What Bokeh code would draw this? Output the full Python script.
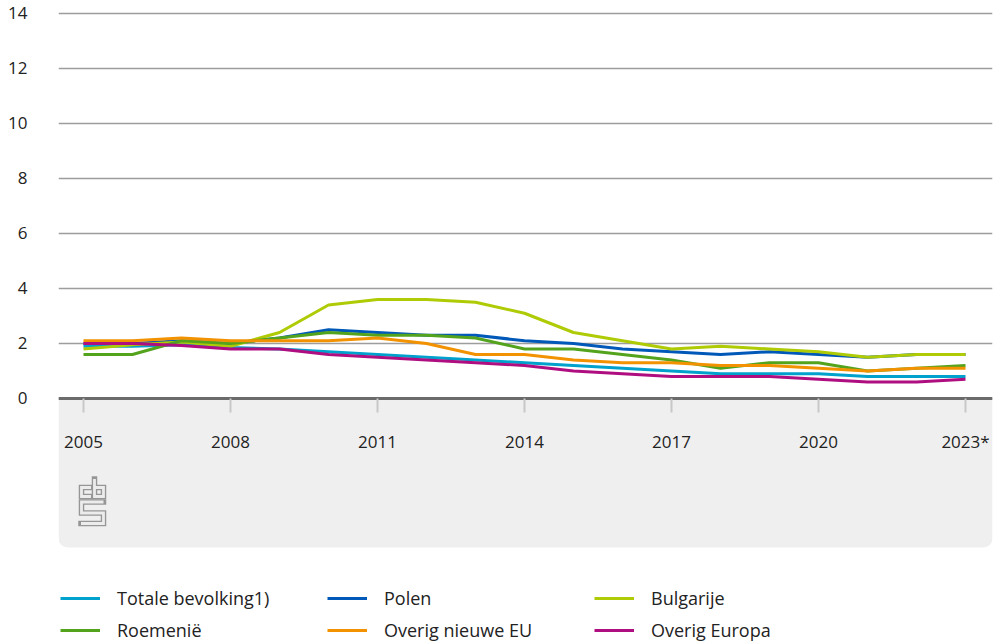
from bokeh.plotting import figure
from bokeh.models import (FixedTicker, BoxAnnotation, Legend, LegendItem, Range1d,
                          ColumnDataSource)
from bokeh.embed import file_html
from bokeh.resources import INLINE

# ---------------- data ----------------
years = list(range(2005, 2024))
totale_bevolking = [1.9, 1.9, 1.95, 1.85, 1.8, 1.7, 1.6, 1.5, 1.4, 1.3, 1.2, 1.1, 1.0, 0.9, 0.9, 0.9, 0.8, 0.8, 0.8]
polen = [2.0, 2.0, 2.1, 2.0, 2.2, 2.5, 2.4, 2.3, 2.3, 2.1, 2.0, 1.8, 1.7, 1.6, 1.7, 1.6, 1.5, 1.6, 1.6]
bulgarije = [1.8, 1.95, 2.05, 1.9, 2.4, 3.4, 3.6, 3.6, 3.5, 3.1, 2.4, 2.1, 1.8, 1.9, 1.8, 1.7, 1.5, 1.6, 1.6]
roemenie = [1.6, 1.6, 2.1, 2.0, 2.2, 2.4, 2.3, 2.3, 2.2, 1.8, 1.8, 1.6, 1.4, 1.1, 1.3, 1.3, 1.0, 1.1, 1.2]
overig_nieuwe_eu = [2.1, 2.1, 2.2, 2.1, 2.1, 2.1, 2.2, 2.0, 1.6, 1.6, 1.4, 1.3, 1.3, 1.2, 1.2, 1.1, 1.0, 1.1, 1.1]
overig_europa = [2.0, 2.0, 1.93, 1.8, 1.8, 1.6, 1.5, 1.4, 1.3, 1.2, 1.0, 0.9, 0.8, 0.8, 0.8, 0.7, 0.6, 0.6, 0.7]

series_names = ["Totale bevolking1)", "Polen", "Bulgarije",
                "Roemenië", "Overig nieuwe EU", "Overig Europa"]
series_values = [totale_bevolking, polen, bulgarije, roemenie, overig_nieuwe_eu, overig_europa]
series_colors = ["#00a1cd", "#0058b8", "#afcb05", "#53a31d", "#f39200", "#af0e80"]

x_tick_values = [2005, 2008, 2011, 2014, 2017, 2020, 2023]
x_tick_labels = ["2005", "2008", "2011", "2014", "2017", "2020", "2023*"]
y_tick_values = [0, 2, 4, 6, 8, 10, 12, 14]

FONT = "Open Sans"
TEXT_COLOR = "#222222"

# ---------------- figure ----------------
p = figure(width=999, height=643, output_backend="svg", toolbar_location=None,
           title=None,
           x_range=Range1d(2004.49, 2023.551), y_range=Range1d(-8.909, 14.145),
           min_border_left=58, min_border_right=7, min_border_top=9, min_border_bottom=0)
p.outline_line_color = None
p.background_fill_color = "white"
p.border_fill_color = "white"

# grey band below the axis
band = BoxAnnotation(top=0, bottom=-5.418, fill_color="#efefef", fill_alpha=1.0,
                     line_color=None, level="underlay", border_radius=(0, 0, 9, 9))
p.add_layout(band)

# grid
p.xgrid.visible = False
p.ygrid.ticker = FixedTicker(ticks=y_tick_values)
p.ygrid.grid_line_color = "#9d9d9d"
p.ygrid.grid_line_width = 1.5

# y axis
p.yaxis.ticker = FixedTicker(ticks=y_tick_values)
p.yaxis.axis_line_color = None
p.yaxis.major_tick_line_color = None
p.yaxis.minor_tick_line_color = None
p.yaxis.major_label_standoff = 25
p.yaxis.major_label_text_font = FONT
p.yaxis.major_label_text_font_size = "17px"
p.yaxis.major_label_text_color = TEXT_COLOR

# x axis, fixed at y = 0
p.xaxis.ticker = FixedTicker(ticks=x_tick_values)
p.xaxis.major_label_overrides = {v: l for v, l in zip(x_tick_values, x_tick_labels)}
p.xaxis.fixed_location = 0
p.xaxis.axis_line_color = "#6b6b6b"
p.xaxis.axis_line_width = 3
p.xaxis.major_tick_in = 0
p.xaxis.major_tick_out = 14
p.xaxis.major_tick_line_color = "#c8c8c8"
p.xaxis.major_tick_line_width = 2
p.xaxis.minor_tick_line_color = None
p.xaxis.major_label_standoff = 18
p.xaxis.major_label_text_font = FONT
p.xaxis.major_label_text_font_size = "17px"
p.xaxis.major_label_text_color = TEXT_COLOR

# ---------------- series ----------------
items = []
for name, vals, col in zip(series_names, series_values, series_colors):
    src = ColumnDataSource(dict(x=years, y=vals))
    r = p.line("x", "y", source=src, line_color=col, line_width=3, line_join="round")
    items.append(LegendItem(label=name, renderers=[r]))

# ---------------- logo (decoration) ----------------
def to_data(px, py):
    return 2005 + (px - 83) / 49.0, (398 - py) / 27.5

logo_paths = [
    [(90.5, 487), (81, 487), (81, 496), (90.5, 496)],
    [(94, 478.5), (94, 496), (103, 496), (103, 487), (94, 487)],
    [(103, 501.5), (81, 501.5), (81, 512.5), (103, 512.5), (103, 523), (80.5, 523)],
]
lx, ly = [], []
for path in logo_paths:
    pts = [to_data(a, b) for a, b in path]
    lx.append([q[0] for q in pts])
    ly.append([q[1] for q in pts])
p.multi_line(lx, ly, line_color="#969696", line_width=5.5, line_join="miter", line_cap="square")
p.multi_line(lx, ly, line_color="#ececec", line_width=2.8, line_join="miter", line_cap="butt")

# ---------------- legend ----------------
legend = Legend(items=items, location=(2, 1), orientation="horizontal", ncols=3,
                glyph_width=40, glyph_height=24, label_height=24, label_width=202,
                label_standoff=17, spacing=8, padding=0, margin=0,
                background_fill_alpha=0, border_line_color=None,
                label_text_font=FONT, label_text_font_size="18px",
                label_text_color=TEXT_COLOR)
p.add_layout(legend, "center")

open("out.html", "w").write(file_html(p, INLINE))
